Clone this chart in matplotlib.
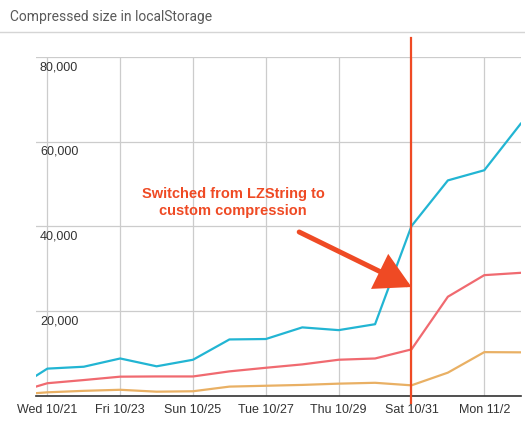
import matplotlib

matplotlib.use("Agg")
import matplotlib.pyplot as plt
import matplotlib.dates as mdates
from matplotlib.lines import Line2D
import pandas as pd

# ---------------------------------------------------------------------------
# Data
# ---------------------------------------------------------------------------
dates = [
    "2015-10-20 16:30", "2015-10-21 00:00", "2015-10-22 00:00",
    "2015-10-23 00:00", "2015-10-24 00:00", "2015-10-25 00:00",
    "2015-10-26 00:00", "2015-10-27 00:00", "2015-10-28 00:00",
    "2015-10-29 00:00", "2015-10-30 00:00", "2015-10-31 00:00",
    "2015-11-01 00:00", "2015-11-02 00:00", "2015-11-03 00:00",
]
cyan_vals = [4700, 6400, 6850, 8800, 6950, 8500, 13300, 13400, 16150,
             15500, 16900, 40100, 50900, 53300, 64300]
red_vals = [2150, 2950, 3700, 4500, 4550, 4550, 5750, 6600, 7400,
            8500, 8800, 10950, 23400, 28500, 29050]
orange_vals = [600, 800, 1150, 1400, 950, 1050, 2150, 2350, 2550,
               2850, 3050, 2450, 5450, 10300, 10250]

tick_dates = ["2015-10-21", "2015-10-23", "2015-10-25", "2015-10-27",
              "2015-10-29", "2015-10-31", "2015-11-02"]
tick_labels = ["Wed 10/21", "Fri 10/23", "Sun 10/25", "Tue 10/27",
               "Thu 10/29", "Sat 10/31", "Mon 11/2"]
y_ticks = [20000, 40000, 60000, 80000]
y_labels = ["20,000", "40,000", "60,000", "80,000"]

switch_date = "2015-10-31"
note_text = "Switched from LZString to\ncustom compression"
arrow_tail = ("2015-10-27 22:00", 38700)
arrow_tip = ("2015-10-31 00:00", 25700)
note_pos = ("2015-10-26 02:30", 45700)


def _num(s):
    return mdates.date2num(pd.Timestamp(s))


# ---------------------------------------------------------------------------
# Styling
# ---------------------------------------------------------------------------
_C_CYAN = "#22b5d3"
_C_RED = "#f06a70"
_C_ORANGE = "#e9b064"
_C_NOTE = "#ef4a24"
_C_GRID = "#cccccc"
_C_TEXT = "#333333"

W, H = 525, 428
fig = plt.figure(figsize=(W / 100, H / 100), dpi=100)
left, right, top, bottom = 36, 520.7, 57.3, 395.7
ax = fig.add_axes([left / W, (H - bottom) / H, (right - left) / W,
                   (bottom - top) / H])

x = [_num(d) for d in dates]
for vals, color in ((orange_vals, _C_ORANGE), (red_vals, _C_RED),
                    (cyan_vals, _C_CYAN)):
    ax.plot(x, vals, color=color, lw=1.6, solid_joinstyle="round", zorder=3)

ax.set_xlim(x[0], x[-1])
ax.set_ylim(0, 80000)

ax.set_xticks([_num(d) for d in tick_dates])
ax.set_xticklabels(tick_labels, fontsize=9, color=_C_TEXT,
                   family="Liberation Sans")
ax.tick_params(axis="x", length=0, pad=6)
ax.set_yticks([0] + y_ticks)
ax.set_yticklabels([])
ax.tick_params(axis="y", length=0)
ax.grid(True, color=_C_GRID, lw=0.9)
ax.set_axisbelow(True)

for v, lbl in zip(y_ticks, y_labels):
    ax.annotate(lbl, xy=(0, v), xycoords=("axes fraction", "data"),
                xytext=(4, -4), textcoords="offset pixels",
                ha="left", va="top", fontsize=9, color=_C_TEXT,
                family="Liberation Sans")

for side in ("top", "right", "left"):
    ax.spines[side].set_visible(False)
ax.spines["bottom"].set_color("#333333")
ax.spines["bottom"].set_linewidth(1.2)
ax.spines["bottom"].set_zorder(4)

# switch marker
ax.axvline(_num(switch_date), ymin=-0.022, ymax=1.057, color=_C_NOTE, lw=1.6,
           clip_on=False, zorder=5)

ax.annotate("", xy=(_num(arrow_tip[0]), arrow_tip[1]),
            xytext=(_num(arrow_tail[0]), arrow_tail[1]),
            arrowprops=dict(arrowstyle="-|>,head_length=2.0,head_width=1.1",
                            color=_C_NOTE, lw=3.6, shrinkA=0, shrinkB=0,
                            joinstyle="miter"),
            zorder=6)
ax.text(_num(note_pos[0]), note_pos[1], note_text,
        ha="center", va="center", fontsize=10.5, fontweight="bold",
        color=_C_NOTE, family="Liberation Sans", linespacing=1.3, zorder=6)

# header
fig.text(10 / W, 1 - 17 / H, "Compressed size in localStorage",
         ha="left", va="center", fontsize=10, color="#5a5a5a", family="Roboto")
fig.add_artist(Line2D([0, 1], [1 - 31.5 / H] * 2, color="#d5d5d5", lw=1,
                      transform=fig.transFigure))

fig.savefig("out.png", dpi=100)
